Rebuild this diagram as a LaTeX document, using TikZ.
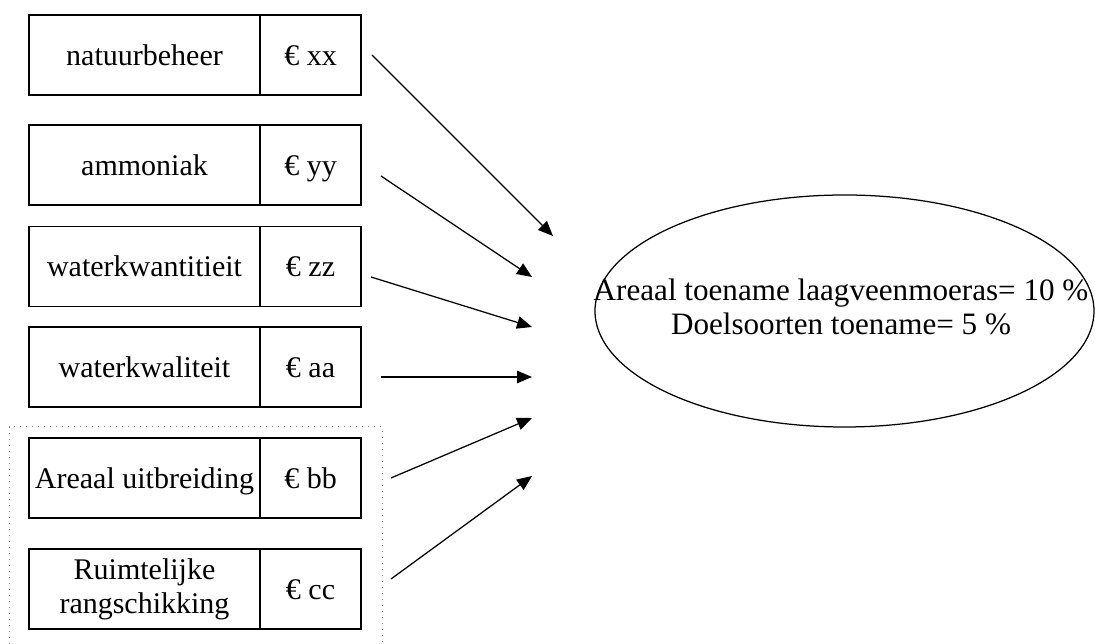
\documentclass[tikz,border=0pt]{standalone}
\usepackage{fontspec}
\setmainfont{Liberation Serif}
\usetikzlibrary{shapes.geometric,arrows.meta}
\begin{document}
\begin{tikzpicture}[x=0.4pt,y=-0.4pt,
  boxbase/.style={draw,line width=0.5pt,minimum width=92.4pt,minimum height=32pt,inner sep=0pt,align=center,font=\fontsize{12}{13.5}\selectfont},
  lbl/.style={boxbase,text height=8.2pt,text depth=0pt},
  lbltwo/.style={boxbase},
  cost/.style={lbl,minimum width=40.4pt},
  arr/.style={line width=0.5pt,-{Triangle[length=6pt,width=5pt]}},
  group/.style={dotted,draw=gray,line width=0.4pt}]
\useasboundingbox (0,0) rectangle (1095,644);
% boxes
\node[lbl] (l1) at (144.5,55) {natuurbeheer};
\node[cost] (c1) at (310.5,55) {€ xx};
\node[lbl] (l2) at (144.5,165) {ammoniak};
\node[cost] (c2) at (310.5,165) {€ yy};
\node[lbl] (l3) at (144.5,266.5) {waterkwantitieit};
\node[cost] (c3) at (310.5,266.5) {€ zz};
\node[lbl] (l4) at (144.5,367) {waterkwaliteit};
\node[cost] (c4) at (310.5,367) {€ aa};
\node[lbl] (l5) at (144.5,478) {Areaal uitbreiding};
\node[cost] (c5) at (310.5,478) {€ bb};
\node[lbltwo] (l6) at (144.5,589) {Ruimtelijke\\rangschikking};
\node[cost] (c6) at (310.5,589) {€ cc};
% dotted group
\draw[group] (9,644) -- (9,427) -- (382,427) -- (382,644);
% target ellipse
\node[ellipse,draw,line width=0.5pt,minimum width=199.6pt,minimum height=92.8pt,inner sep=0pt] (goal) at (844.5,311) {};
\node[align=center,inner sep=0pt,font=\fontsize{12.45}{13.3}\selectfont] (goaltext) at (841,307)
  {Areaal toename laagveenmoeras= 10 \%\\Doelsoorten toename= 5 \%};
% arrow end points
\coordinate (s1) at (372,55);  \coordinate (t1) at (553,236);
\coordinate (s2) at (381,176); \coordinate (t2) at (532,277);
\coordinate (s3) at (371,277); \coordinate (t3) at (532,327);
\coordinate (s4) at (381,377); \coordinate (t4) at (532,377);
\coordinate (s5) at (391,478); \coordinate (t5) at (532,418);
\coordinate (s6) at (391,579); \coordinate (t6) at (532,476);
\foreach \i in {1,...,6} \draw[arr] (s\i) -- (t\i);
\end{tikzpicture}
\end{document}
